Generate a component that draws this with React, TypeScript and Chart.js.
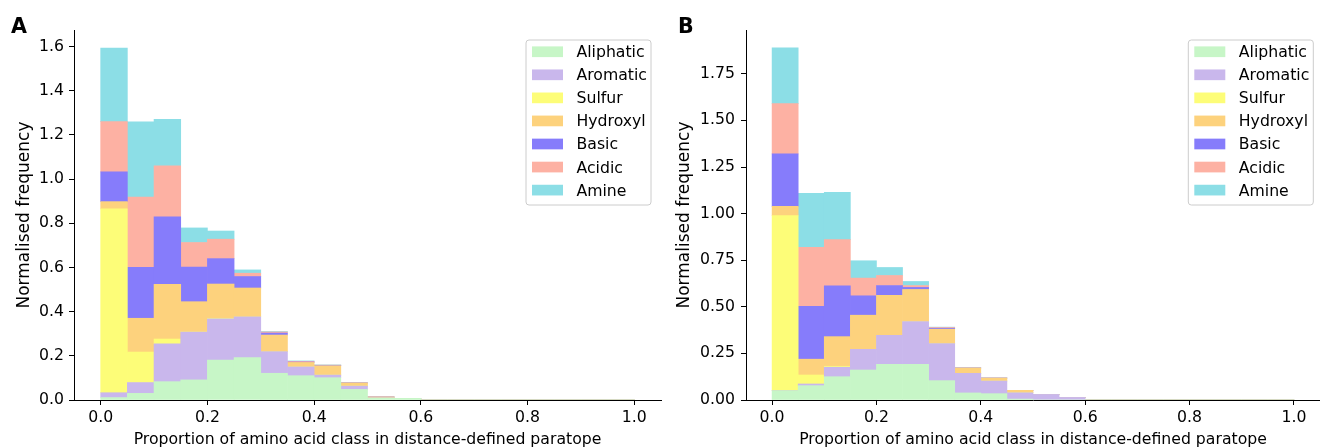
import React, { useEffect, useRef } from "react";
import { Chart, registerables } from "chart.js";

Chart.register(...registerables);

const FONT = "'DejaVu Sans', 'Liberation Sans', sans-serif";
const TICK_SIZE = 15.7;
const XTITLE_SIZE = 15.7;
const YTITLE_SIZE = 17;
const LEGEND_SIZE = 15.7;

// ---------- data ----------
const classNames = ["Aliphatic", "Aromatic", "Sulfur", "Hydroxyl", "Basic", "Acidic", "Amine"];
const classColors = ["#c7f6c7", "#c9b7ec", "#fdfd78", "#fdd27d", "#867cfb", "#fdb1a3", "#8cdee6"];

const binCenters = [
  0.025, 0.075, 0.125, 0.175, 0.225, 0.275, 0.325, 0.375, 0.425, 0.475,
  0.525, 0.575, 0.625, 0.675, 0.725, 0.775, 0.825, 0.875, 0.925, 0.975,
];

const xTickValues = [0, 0.2, 0.4, 0.6, 0.8, 1.0];
const yTickValuesA = [0, 0.2, 0.4, 0.6, 0.8, 1.0, 1.2, 1.4, 1.6];
const yTickValuesB = [0, 0.25, 0.5, 0.75, 1.0, 1.25, 1.5, 1.75];

const xTitle = "Proportion of amino acid class in distance-defined paratope";
const yTitle = "Normalised frequency";

// Panel A (per-class bar heights, stacked)
const aliphaticA = [0.011, 0.030, 0.083, 0.091, 0.181, 0.192, 0.121, 0.110, 0.101, 0.048, 0.008, 0.0075, 0, 0, 0, 0, 0, 0, 0, 0];
const aromaticA = [0.022, 0.049, 0.171, 0.217, 0.186, 0.184, 0.098, 0.040, 0.012, 0.015, 0.002, 0, 0, 0, 0, 0, 0, 0, 0, 0];
const sulfurA = [0.832, 0.138, 0.022, 0, 0.003, 0, 0, 0, 0, 0, 0, 0, 0, 0, 0, 0, 0, 0, 0, 0];
const hydroxylA = [0.033, 0.153, 0.248, 0.137, 0.155, 0.131, 0.075, 0.020, 0.042, 0.014, 0.003, 0, 0, 0, 0, 0, 0, 0, 0, 0];
const basicA = [0.135, 0.231, 0.305, 0.157, 0.115, 0.052, 0.009, 0.002, 0.001, 0, 0, 0, 0, 0, 0, 0, 0, 0, 0, 0];
const acidicA = [0.227, 0.318, 0.231, 0.111, 0.088, 0.015, 0.005, 0.003, 0.002, 0.001, 0.002, 0, 0, 0, 0, 0, 0, 0, 0, 0];
const amineA = [0.333, 0.340, 0.211, 0.066, 0.037, 0.015, 0.002, 0.002, 0.001, 0, 0, 0, 0, 0, 0, 0, 0, 0, 0, 0];

// Panel B
const aliphaticB = [0.050, 0.077, 0.125, 0.161, 0.192, 0.192, 0.104, 0.038, 0.034, 0.005, 0, 0, 0, 0, 0, 0, 0, 0, 0, 0];
const aromaticB = [0, 0.009, 0.051, 0.111, 0.155, 0.229, 0.199, 0.105, 0.068, 0.034, 0.030, 0.014, 0, 0, 0, 0, 0, 0, 0, 0];
const sulfurB = [0.939, 0.048, 0.005, 0, 0, 0, 0, 0, 0, 0, 0, 0, 0, 0, 0, 0, 0, 0, 0, 0];
const hydroxylB = [0.050, 0.085, 0.159, 0.183, 0.215, 0.172, 0.077, 0.029, 0.016, 0.013, 0, 0, 0, 0, 0, 0, 0, 0, 0, 0];
const basicB = [0.281, 0.283, 0.273, 0.104, 0.052, 0.011, 0.005, 0, 0, 0, 0, 0, 0, 0, 0, 0, 0, 0, 0, 0];
const acidicB = [0.270, 0.317, 0.247, 0.095, 0.054, 0.010, 0.004, 0, 0, 0, 0, 0, 0, 0, 0, 0, 0, 0, 0, 0];
const amineB = [0.300, 0.290, 0.254, 0.093, 0.043, 0.022, 0.002, 0, 0, 0, 0, 0, 0, 0, 0, 0, 0, 0, 0, 0];

const seriesA = [aliphaticA, aromaticA, sulfurA, hydroxylA, basicA, acidicA, amineA];
const seriesB = [aliphaticB, aromaticB, sulfurB, hydroxylB, basicB, acidicB, amineB];

type PanelProps = {
  series: number[][];
  yTicks: number[];
  yDecimals: number;
  yMax: number;
  letter: string;
  letterX: number;
  width: number;
  yAxisWidth: number;
  padRight: number;
  yTitlePad: number;
  yTickPad: number;
  legendRight: number;
};

function Panel(p: PanelProps) {
  const ref = useRef<HTMLCanvasElement | null>(null);

  useEffect(() => {
    if (!ref.current) return;
    const decor = {
      id: "decor",
      afterDraw(chart: any) {
        const ctx = chart.ctx as CanvasRenderingContext2D;
        ctx.save();
        // panel letter
        ctx.fillStyle = "#000";
        ctx.font = `bold 20.6px ${FONT}`;
        ctx.textAlign = "left";
        ctx.textBaseline = "alphabetic";
        ctx.fillText(p.letter, p.letterX, 33.3);

        // legend
        const w = 125;
        const h = 165;
        const left = p.legendRight - w;
        const top = 40;
        const r = 3;
        ctx.beginPath();
        ctx.moveTo(left + r, top);
        ctx.lineTo(left + w - r, top);
        ctx.arcTo(left + w, top, left + w, top + r, r);
        ctx.lineTo(left + w, top + h - r);
        ctx.arcTo(left + w, top + h, left + w - r, top + h, r);
        ctx.lineTo(left + r, top + h);
        ctx.arcTo(left, top + h, left, top + h - r, r);
        ctx.lineTo(left, top + r);
        ctx.arcTo(left, top, left + r, top, r);
        ctx.closePath();
        ctx.fillStyle = "rgba(255,255,255,0.8)";
        ctx.fill();
        ctx.strokeStyle = "#cccccc";
        ctx.lineWidth = 1;
        ctx.stroke();

        ctx.font = `${LEGEND_SIZE}px ${FONT}`;
        ctx.textBaseline = "alphabetic";
        classNames.forEach((name, i) => {
          const cy = top + 11.7 + i * 23.06;
          ctx.fillStyle = classColors[i];
          ctx.fillRect(left + 6, cy - 5.3, 31, 10.7);
          ctx.fillStyle = "#000";
          ctx.fillText(name, left + 50.5, cy + 5.5);
        });
        ctx.restore();
      },
    };

    const chart = new Chart(ref.current, {
      type: "bar",
      data: {
        datasets: classNames.map((name, i) => ({
          label: name,
          data: binCenters.map((x, j) => ({ x, y: p.series[i][j] })),
          backgroundColor: classColors[i],
          borderWidth: 0,
          barPercentage: 1,
          categoryPercentage: 1,
        })),
      },
      options: {
        responsive: false,
        animation: false,
        devicePixelRatio: 1,
        layout: { padding: { left: 0, right: p.padRight, top: 30, bottom: 0 } },
        plugins: {
          legend: { display: false },
          tooltip: { enabled: false },
        },
        scales: {
          x: {
            type: "linear",
            min: -0.05,
            max: 1.05,
            stacked: true,
            offset: false,
            afterBuildTicks: (s: any) => {
              s.ticks = xTickValues.map((v) => ({ value: v }));
            },
            afterFit: (s: any) => {
              s.height = 48;
            },
            grid: {
              display: true,
              drawOnChartArea: false,
              drawTicks: true,
              tickLength: 5,
              color: "#000",
              lineWidth: 1,
              offset: false,
            },
            border: { display: true, color: "#000", width: 1 },
            ticks: {
              color: "#000",
              font: { family: FONT, size: TICK_SIZE },
              padding: 4,
              maxRotation: 0,
              autoSkip: false,
              callback: (v: any) => Number(v).toFixed(1),
            },
            title: {
              display: true,
              text: xTitle,
              color: "#000",
              font: { family: FONT, size: XTITLE_SIZE, lineHeight: 1 },
              padding: { top: 0, bottom: 0 },
            },
          },
          y: {
            type: "linear",
            min: 0,
            max: p.yMax,
            stacked: true,
            afterBuildTicks: (s: any) => {
              s.ticks = p.yTicks.map((v) => ({ value: v }));
            },
            afterFit: (s: any) => {
              s.width = p.yAxisWidth;
            },
            grid: {
              display: true,
              drawOnChartArea: false,
              drawTicks: true,
              tickLength: 5,
              color: "#000",
              lineWidth: 1,
            },
            border: { display: true, color: "#000", width: 1 },
            ticks: {
              color: "#000",
              font: { family: FONT, size: TICK_SIZE },
              padding: p.yTickPad,
              autoSkip: false,
              callback: (v: any) => Number(v).toFixed(p.yDecimals),
            },
            title: {
              display: true,
              text: yTitle,
              color: "#000",
              font: { family: FONT, size: YTITLE_SIZE, lineHeight: 1 },
              padding: { top: p.yTitlePad, bottom: 0 },
            },
          },
        },
      },
      plugins: [decor],
    } as any);
    return () => chart.destroy();
  }, []);

  return (
    <canvas
      ref={ref}
      width={p.width}
      height={448}
      style={{ width: p.width, height: 448, display: "block" }}
    />
  );
}

export default function App() {
  return (
    <div
      style={{
        position: "fixed",
        left: 0,
        top: 0,
        width: 1320,
        height: 448,
        background: "#fff",
        overflow: "hidden",
      }}
    >
      <div style={{ position: "absolute", left: 0, top: 0, width: 670, height: 448 }}>
        <Panel
          series={seriesA}
          yTicks={yTickValuesA}
          yDecimals={1}
          yMax={1.675}
          letter="A"
          letterX={11}
          width={670}
          yAxisWidth={74}
          padRight={9}
          yTitlePad={15.8}
          yTickPad={5}
          legendRight={651}
        />
      </div>
      <div style={{ position: "absolute", left: 670, top: 0, width: 650, height: 448 }}>
        <Panel
          series={seriesB}
          yTicks={yTickValuesB}
          yDecimals={2}
          yMax={1.985}
          letter="B"
          letterX={8}
          width={650}
          yAxisWidth={76}
          padRight={0}
          yTitlePad={5.8}
          yTickPad={6}
          legendRight={643.3}
        />
      </div>
    </div>
  );
}
